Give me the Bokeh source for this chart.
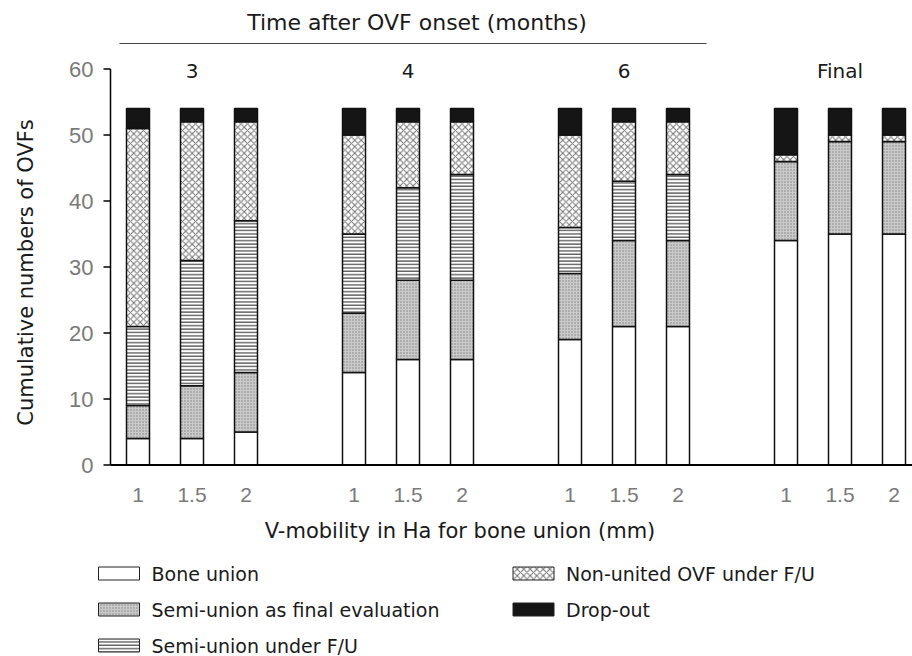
import numpy as np
from bokeh.plotting import figure
from bokeh.models import ColumnDataSource, Range1d
from bokeh.transform import stack
from bokeh.core.properties import value
from bokeh.embed import file_html
from bokeh.resources import INLINE

# ---------------- data ----------------
groups = ["3", "4", "6", "Final"]          # time after OVF onset (months)
mobility = ["1", "1.5", "2"]                # V-mobility in Ha for bone union (mm)
bone_union       = [4, 4, 5, 14, 16, 16, 19, 21, 21, 34, 35, 35]
semi_union_final = [5, 8, 9, 9, 12, 12, 10, 13, 13, 12, 14, 14]
semi_union_fu    = [12, 19, 23, 12, 14, 16, 7, 9, 10, 0, 0, 0]
non_united_fu    = [30, 21, 15, 15, 10, 8, 14, 9, 8, 1, 1, 1]
drop_out         = [3, 2, 2, 4, 2, 2, 4, 2, 2, 7, 4, 4]
series_names = ["Bone union", "Semi-union as final evaluation", "Semi-union under F/U",
                "Non-united OVF under F/U", "Drop-out"]
y_ticks = [0, 10, 20, 30, 40, 50, 60]
y_tick_labels = [str(t) for t in y_ticks]

# ---------------- layout (pixels) ----------------
W, H = 912, 656
PX_X = 54.0          # pixels per category slot
PX_Y = 6.6           # pixels per OVF
X0_PX = 137.5        # pixel centre of first bar
Y0_PX = 464.5        # pixel row of value 0

def dx(px):
    return px / PX_X

def dy(px):
    return px / PX_Y

def X(px):           # image x -> data x
    return (px - X0_PX) / PX_X

def Y(py):           # image y -> data y
    return (Y0_PX - py) / PX_Y

slot = len(mobility) + 1
xs = [g * slot + j for g in range(len(groups)) for j in range(len(mobility))]
xlabels = [m for g in range(len(groups)) for m in mobility]

p = figure(width=W, height=H, output_backend="svg", toolbar_location=None,
           x_range=Range1d(X(0), X(W)), y_range=Range1d(Y(H), Y(0)),
           min_border=0, outline_line_color=None)
p.axis.visible = False
p.xgrid.visible = False
p.ygrid.visible = False

FONT = value("DejaVu Sans")
TICKFONT = value("Liberation Sans")
INK = "#1a1a1a"
GREY = "#7a7a7a"

# ---------------- stacked bars ----------------
src = ColumnDataSource(dict(x=xs, s0=bone_union, s1=semi_union_final, s2=semi_union_fu,
                            s3=non_united_fu, s4=drop_out))
styles = [
    dict(fill_color="white"),
    dict(fill_color="#cacaca", hatch_pattern="dot", hatch_color="#828282", hatch_scale=3, hatch_weight=1),
    dict(fill_color="white", hatch_pattern="horizontal_line", hatch_color="#606060", hatch_scale=3.4, hatch_weight=1.4),
    dict(fill_color="white", hatch_pattern="diagonal_cross", hatch_color="#727272", hatch_scale=6.5, hatch_weight=1),
    dict(fill_color="#151515"),
]
keys = ["s0", "s1", "s2", "s3", "s4"]
for i, k in enumerate(keys):
    p.vbar(x="x", width=dx(23), bottom=stack(*keys[:i]), top=stack(*keys[:i + 1]),
           source=src, line_color="#111111", line_width=1.5, **styles[i])

# ---------------- axes (drawn through the data scales) ----------------
axis_x = xs[0] - dx(27.5)
p.segment(x0=[axis_x], y0=[y_ticks[0]], x1=[axis_x], y1=[y_ticks[-1]],
          line_color="black", line_width=1.5)
p.segment(x0=[axis_x], y0=[0], x1=[X(W)], y1=[0], line_color="black", line_width=2)
p.segment(x0=[axis_x - dx(7)] * len(y_ticks), y0=y_ticks, x1=[axis_x] * len(y_ticks), y1=y_ticks,
          line_color="black", line_width=1.5)
p.text(x=[axis_x - dx(17)] * len(y_ticks), y=y_ticks, text=y_tick_labels,
       text_font=TICKFONT, text_font_size="22px", text_color=GREY,
       text_align="right", text_baseline="middle")
p.text(x=xs, y=[-dy(29.5)] * len(xs), text=xlabels,
       text_font=TICKFONT, text_font_size="21px", text_color=GREY,
       text_align="center", text_baseline="middle")
p.text(x=[X(25)], y=[Y(272)], text=["Cumulative numbers of OVFs"], angle=np.pi / 2,
       text_font=FONT, text_font_size="21px", text_color=INK,
       text_align="center", text_baseline="middle")
p.text(x=[X(459.5)], y=[Y(530)], text=["V-mobility in Ha for bone union (mm)"],
       text_font=FONT, text_font_size="21px", text_color=INK,
       text_align="center", text_baseline="middle")

# ---------------- header ----------------
line_x0 = xs[0] - dx(18.5)
line_x1 = xs[3 * len(mobility) - 1] + dx(28.5)
p.segment(x0=[line_x0], y0=[Y(43)], x1=[line_x1], y1=[Y(43)],
          line_color="#444444", line_width=1.2)
p.text(x=[(line_x0 + line_x1) / 2 + dx(4)], y=[Y(22)], text=["Time after OVF onset (months)"],
       text_font=FONT, text_font_size="22px", text_color=INK,
       text_align="center", text_baseline="middle")
centers = [g * slot + (len(mobility) - 1) / 2 for g in range(len(groups))]
p.text(x=centers, y=[Y(70)] * len(groups), text=groups,
       text_font=FONT, text_font_size="20px", text_color=INK,
       text_align="center", text_baseline="middle")

# ---------------- legend (two columns) ----------------
leg_x = [X(118.5), X(118.5), X(118.5), X(533), X(533)]
leg_y = [Y(573), Y(609), Y(645), Y(573), Y(609)]
for i in range(len(series_names)):
    p.rect(x=[leg_x[i]], y=[leg_y[i]], width=41, height=13, width_units="screen",
           height_units="screen", line_color="#222222", line_width=1, **styles[i])
p.text(x=[lx + dx(32.5) for lx in leg_x], y=leg_y, text=series_names,
       text_font=FONT, text_font_size="19px", text_color=INK,
       text_align="left", text_baseline="middle")

open("out.html", "w").write(file_html(p, INLINE))
